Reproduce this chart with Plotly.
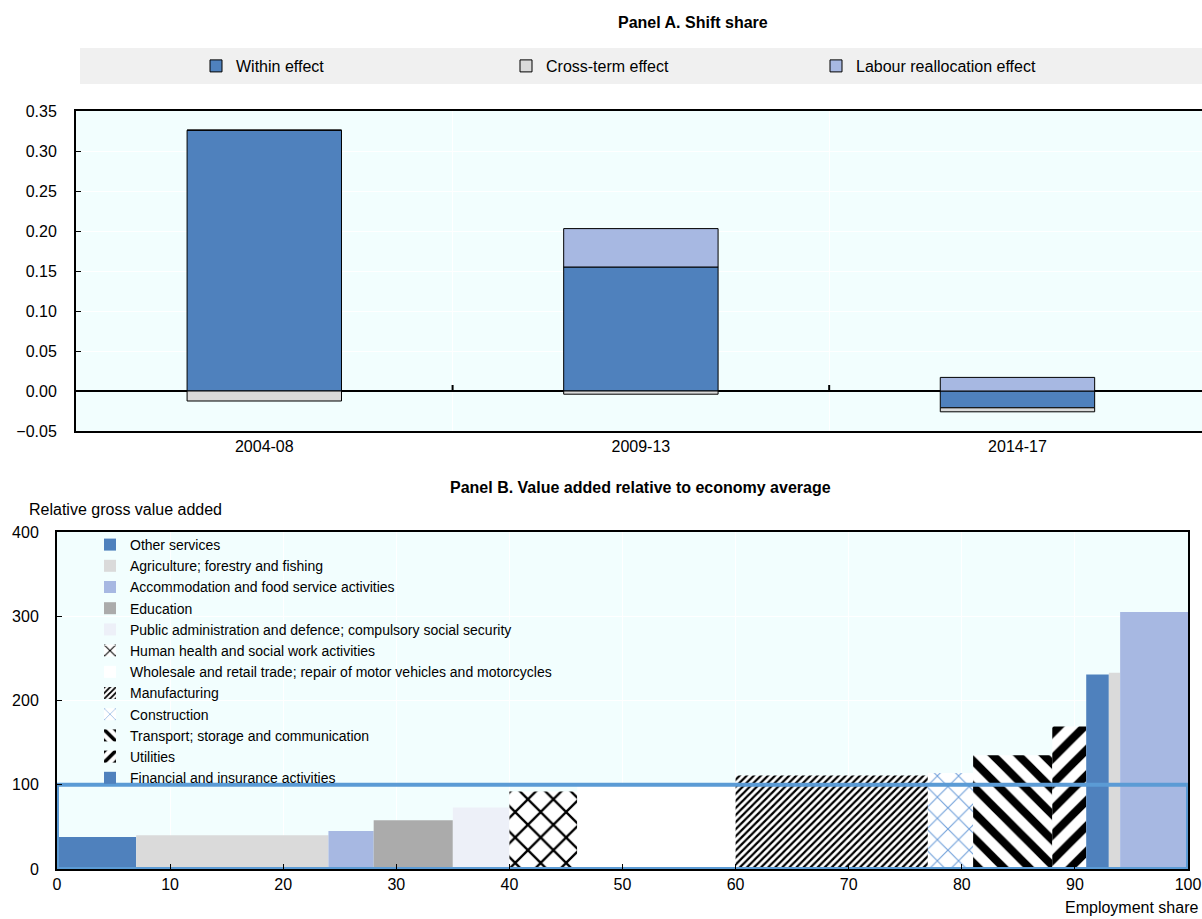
import plotly.graph_objects as go

# Panel A data
periods = ["2004-08", "2009-13", "2014-17"]
within_effect = [0.326, 0.155, -0.021]
cross_term_effect = [-0.0125, -0.004, -0.005]
labour_realloc_effect = [0.0, 0.048, 0.017]

# Panel B data
sectors = [
    "Other services",
    "Agriculture; forestry and fishing",
    "Accommodation and food service activities",
    "Education",
    "Public administration and defence; compulsory social security",
    "Human health and social work activities",
    "Wholesale and retail trade; repair of motor vehicles and motorcycles",
    "Manufacturing",
    "Construction",
    "Transport; storage and communication",
    "Utilities",
    "Financial and insurance activities",
    "",
    "",
]
employment_share = [7, 17, 4, 7, 5, 6, 14, 17, 4, 7, 3, 2, 1, 6]
relative_gva = [38, 40, 45, 58, 73, 92, 99, 111, 114, 135, 169, 231, 233, 305]
economy_average = 100

FONT = "Liberation Sans Narrow, Arial Narrow, Liberation Sans, Arial, sans-serif"
BG = "#F2FEFE"
BLUE = "#4F81BD"
LIGHTBLUE = "#A7B8E2"
GREY = "#DADADA"

W, H = 1202, 919


def px(x):
    return x / W


def py(y):
    return 1 - y / H


# styles for panel B bars: (colour, pattern shape, fg colour, size, solidity)
sector_styles = [
    (BLUE, "", None, None, None),
    (GREY, "", None, None, None),
    (LIGHTBLUE, "", None, None, None),
    ("#ABABAB", "", None, None, None),
    ("#EDF0F8", "", None, None, None),
    ("white", "x", "black", 18, 0.24),
    ("white", "", None, None, None),
    ("white", "/", "black", 5, 0.45),
    ("white", "x", "#6F9FDA", 15, 0.14),
    ("white", "\\", "black", 18, 0.45),
    ("white", "/", "black", 18, 0.45),
    (BLUE, "", None, None, None),
    (GREY, "", None, None, None),
    (LIGHTBLUE, "", None, None, None),
]

fig = go.Figure()

# ---- Panel A
fig.add_trace(go.Bar(x=periods, y=within_effect, name="Within effect",
                     marker=dict(color=BLUE, line=dict(color="black", width=1)),
                     width=0.41, xaxis="x", yaxis="y", legend="legend"))
fig.add_trace(go.Bar(x=periods, y=cross_term_effect, name="Cross-term effect",
                     marker=dict(color=GREY, line=dict(color="black", width=1)),
                     width=0.41, xaxis="x", yaxis="y", legend="legend"))
fig.add_trace(go.Bar(x=periods, y=labour_realloc_effect, name="Labour reallocation effect",
                     marker=dict(color=LIGHTBLUE, line=dict(color="black", width=1)),
                     width=0.41, xaxis="x", yaxis="y", legend="legend"))

# ---- Panel B
left = 0
for name, w, h, st in zip(sectors, employment_share, relative_gva, sector_styles):
    color, shape, fg, size, sol = st
    marker = dict(color=color, line=dict(width=0))
    if shape:
        marker["pattern"] = dict(shape=shape, fgcolor=fg, bgcolor="white",
                                 size=size, solidity=sol, fillmode="replace")
    fig.add_trace(go.Bar(x=[left + w / 2], y=[h], width=[w], name=name,
                         marker=marker, showlegend=bool(name),
                         xaxis="x2", yaxis="y2", legend="legend2"))
    left += w

total = sum(employment_share)
fig.add_trace(go.Scatter(x=[0, 0, total, total, 0],
                         y=[0, economy_average, economy_average, 0, 0],
                         mode="lines", line=dict(color="#5B9BD5", width=4),
                         showlegend=False, xaxis="x2", yaxis="y2"))

axis_common = dict(showline=True, linecolor="black", linewidth=2,
                   gridcolor="white", gridwidth=1,
                   tickfont=dict(size=16, color="black"))

# small tick marks on the zero line between periods
zero_ticks = [dict(type="line", xref="x", yref="y", x0=i - 0.5, x1=i - 0.5,
                   y0=0, y1=0.0075, line=dict(color="black", width=2))
              for i in range(1, len(periods))]

fig.update_layout(
    width=W, height=H,
    margin=dict(l=0, r=0, t=0, b=0, autoexpand=False),
    paper_bgcolor="white",
    plot_bgcolor=BG,
    barmode="relative",
    font=dict(family=FONT, size=16, color="black"),
    xaxis=dict(domain=[px(76), 1.0], anchor="y", type="category",
               range=[-0.5, 2.49], tickson="boundaries", ticks="",
               showgrid=True, mirror=True, **axis_common),
    yaxis=dict(domain=[py(431), py(111)], anchor="x",
               range=[-0.05, 0.35], dtick=0.05, tickformat=".2f",
               ticks="inside", ticklen=5, tickcolor="black",
               ticklabelstandoff=14, mirror=False,
               zeroline=True, zerolinecolor="black", zerolinewidth=2,
               **axis_common),
    xaxis2=dict(domain=[px(57), px(1188)], anchor="y2",
                range=[0, 100], dtick=10, ticks="inside", ticklen=5,
                tickcolor="black", showgrid=True, zeroline=False,
                mirror=True, **axis_common),
    yaxis2=dict(domain=[py(869), py(532)], anchor="x2",
                range=[0, 400], dtick=100, ticks="inside", ticklen=5,
                tickcolor="black", ticklabelstandoff=13, zeroline=False,
                mirror=True, **axis_common),
    legend=dict(orientation="h", x=px(196), xanchor="left",
                y=py(66), yanchor="middle", bgcolor="rgba(0,0,0,0)",
                entrywidth=265, traceorder="normal",
                font=dict(size=16)),
    legend2=dict(orientation="v", x=px(90), xanchor="left",
                 y=py(529), yanchor="top", bgcolor="rgba(0,0,0,0)",
                 traceorder="normal", tracegroupgap=0,
                 font=dict(size=14)),
    shapes=[dict(type="rect", xref="paper", yref="paper",
                 x0=px(80), x1=1.0, y0=py(84), y1=py(48),
                 fillcolor="#F0F0F0", line=dict(width=0), layer="below")]
    + zero_ticks,
    annotations=[
        dict(text="<b>Panel A. Shift share</b>", xref="paper", yref="paper",
             x=px(693), y=py(22), showarrow=False,
             xanchor="center", yanchor="middle", font=dict(size=16)),
        dict(text="<b>Panel B. Value added relative to economy average</b>",
             xref="paper", yref="paper", x=px(640), y=py(487),
             showarrow=False, xanchor="center", yanchor="middle",
             font=dict(size=16)),
        dict(text="Relative gross value added", xref="paper", yref="paper",
             x=px(27), y=py(510), showarrow=False,
             xanchor="left", yanchor="middle", font=dict(size=16)),
        dict(text="Employment share", xref="paper", yref="paper",
             x=px(1200), y=py(907), showarrow=False,
             xanchor="right", yanchor="middle", font=dict(size=16)),
    ],
)

# drop the default 8px page margin so the figure fills the window exactly
fig.write_html("out.html", config={"displayModeBar": False},
               post_script="document.body.style.margin='0';")
